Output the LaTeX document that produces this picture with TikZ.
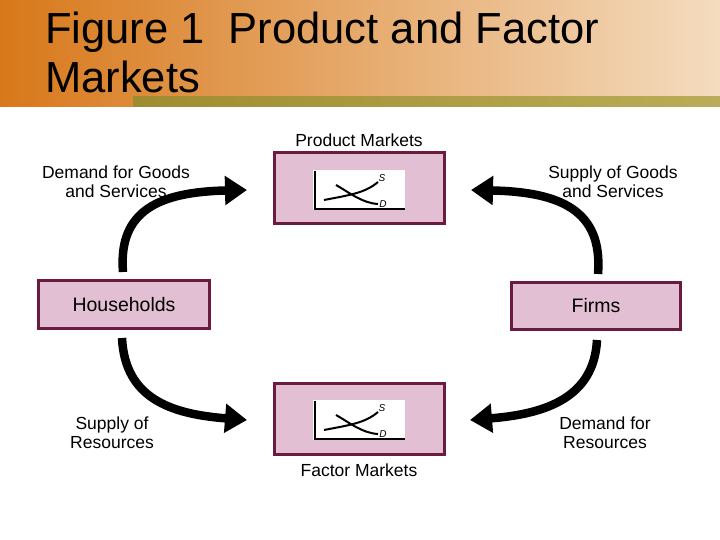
\documentclass[tikz,border=0pt]{standalone}
\usepackage{fontspec}
\setmainfont{Liberation Sans}
\usetikzlibrary{arrows.meta}
\definecolor{mar}{HTML}{6B1A40}
\definecolor{pinkf}{HTML}{E2BFD2}
\definecolor{orA}{HTML}{D8781A}
\definecolor{orB}{HTML}{F4DCC0}
\definecolor{olA}{HTML}{A08C30}
\definecolor{olB}{HTML}{BAAC58}
\tikzset{
 mbox/.style={draw=mar,line width=3pt,fill=pinkf},
 lbl/.style={font=\fontsize{17.5}{19}\selectfont,align=center},
 flow/.style={line width=8.5pt,-{Triangle[length=22pt,width=28pt]}},
 curve/.style={line width=2pt},
 sd/.style={font=\itshape\fontsize{10}{10}\selectfont,inner sep=1pt}
}
\begin{document}
\begin{tikzpicture}[x=1pt,y=-1pt]
\useasboundingbox (0,0) rectangle (720,540);
\fill[white] (0,0) rectangle (720,540);
\shade[left color=orA,right color=orB] (0,0) rectangle (720,107);
\shade[left color=olA,right color=olB] (133,97) rectangle (720,107);
\node[anchor=base west,font=\fontsize{43.5}{40}\selectfont,inner sep=0] (t1) at (45,44) {Figure 1\ \ Product and Factor};
\node[anchor=base west,font=\fontsize{43.5}{40}\selectfont,inner sep=0] (t2) at (45,93) {Markets};
% market boxes
\foreach \n/\y in {pm/153,fm/383}{
 \draw[mbox] (274,\y) rectangle (444,\y+71);
 \fill[white] (313,\y+17) rectangle (405,\y+57);
 \draw[line width=1.5pt] (315,\y+18) -- (315,\y+56) -- (405,\y+56);
 \draw[curve] (324,\y+47) .. controls (350,\y+42) and (365,\y+40) .. (378,\y+29);
 \draw[curve] (336,\y+32) .. controls (350,\y+40) and (362,\y+50) .. (378,\y+51);
 \node[sd] at (382,\y+25) {S};
 \node[sd] at (383,\y+51) {D};
}
\node[lbl] (pmt) at (359,140) {Product Markets};
\node[lbl] (fmt) at (359,470) {Factor Markets};
\node[mbox,lbl,font=\fontsize{19.5}{20}\selectfont,minimum width=171pt,minimum height=48pt] (hh) at (124,304.5) {Households};
\node[mbox,lbl,font=\fontsize{19.5}{20}\selectfont,minimum width=169pt,minimum height=47pt] (fi) at (596,306) {Firms};
\node[lbl] (dg) at (116,182) {Demand for Goods\\and Services};
\node[lbl] (sg) at (613,182) {Supply of Goods\\and Services};
\node[lbl] (sr) at (112,433) {Supply of\\Resources};
\node[lbl] (dr) at (605,433) {Demand for\\Resources};
\coordinate (a1) at (123,272); \coordinate (b1) at (247,190);
\coordinate (a2) at (598,274); \coordinate (b2) at (471,190);
\coordinate (a3) at (122,338); \coordinate (b3) at (247,420);
\coordinate (a4) at (597,340); \coordinate (b4) at (470,420);
\draw[flow] (a1) .. controls (118,210) and (160,192) .. (b1);
\draw[flow] (a2) .. controls (603,210) and (560,192) .. (b2);
\draw[flow] (a3) .. controls (125,398) and (170,414) .. (b3);
\draw[flow] (a4) .. controls (594,398) and (545,414) .. (b4);
\end{tikzpicture}
\end{document}
